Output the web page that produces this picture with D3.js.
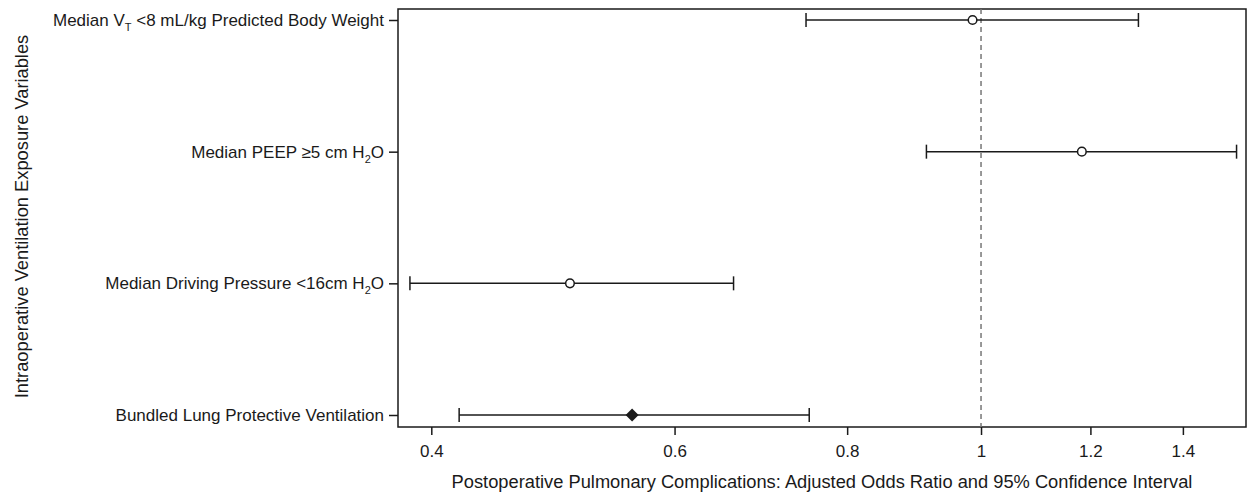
<!DOCTYPE html>
<html><head><meta charset="utf-8">
<script src="https://cdn.jsdelivr.net/npm/d3@7"></script>
<style>body{margin:0;background:#fff}svg{display:block}text{font-family:"Liberation Sans",Arial,sans-serif;fill:#1a1a1a}</style>
</head><body><svg id="c" width="1255" height="498"></svg>
<script>
// Data
const categories = ["Median VT <8 mL/kg Predicted Body Weight","Median PEEP ≥5 cm H2O","Median Driving Pressure <16cm H2O","Bundled Lung Protective Ventilation"];
const labelParts = [
  [["Median V",0],["T",1],[" <8 mL/kg Predicted Body Weight",0]],
  [["Median PEEP ≥5 cm H",0],["2",1],["O",0]],
  [["Median Driving Pressure <16cm H",0],["2",1],["O",0]],
  [["Bundled Lung Protective Ventilation",0]]
];
const oddsRatio = [0.986, 1.183, 0.504, 0.559];
const lowerCI   = [0.747, 0.913, 0.386, 0.419];
const upperCI   = [1.300, 1.531, 0.662, 0.751];
const markerType = ["circle","circle","circle","diamond"];
const xTicks = [0.4, 0.6, 0.8, 1, 1.2, 1.4];
const xTitle = "Postoperative Pulmonary Complications: Adjusted Odds Ratio and 95% Confidence Interval";
const yTitle = "Intraoperative Ventilation Exposure Variables";

const svg = d3.select("#c");
const L = 398, R = 1246, T = 9, B = 427;
const col = "#1a1a1a";
const FONT = "'Liberation Sans',Arial,sans-serif";
const x = d3.scaleLog().domain([0.3784, 1.5553]).range([L, R]);
const y = d3.scalePoint().domain(categories).range([20, 415]);

// frame
svg.append("rect").attr("x", L).attr("y", T).attr("width", R-L).attr("height", B-T)
  .attr("fill","none").attr("stroke",col).attr("stroke-width",1.5);

// reference line
svg.append("line").attr("x1", x(1)).attr("x2", x(1)).attr("y1", T).attr("y2", B)
  .attr("stroke","#777").attr("stroke-width",1.5).attr("stroke-dasharray","5,4");

// x axis
const xa = svg.append("g").attr("transform",`translate(0,${B})`)
  .call(d3.axisBottom(x).tickValues(xTicks).tickFormat(d3.format("~g")).tickSize(8).tickPadding(10));
xa.select(".domain").remove();
xa.selectAll("line").attr("stroke",col).attr("stroke-width",1.5);
xa.selectAll("text").attr("font-size",17).attr("fill",col).style("font-family",FONT);

// y axis
const ya = svg.append("g").attr("transform",`translate(${L},0)`)
  .call(d3.axisLeft(y).tickSize(9).tickPadding(5).tickFormat(""));
ya.select(".domain").remove();
ya.selectAll("line").attr("stroke",col).attr("stroke-width",1.5);
ya.selectAll(".tick").each(function(d, i){
  const t = d3.select(this).select("text").attr("font-size",17).attr("fill",col)
    .style("font-family",FONT);
  let prevSub = false;
  labelParts[i].forEach(([s,sub]) => {
    const ts = t.append("tspan").text(s);
    if (sub) ts.attr("font-size",11).attr("dy",5);
    else if (prevSub) ts.attr("dy",-5);
    prevSub = !!sub;
  });
});

// CI lines
const g = svg.append("g");
categories.forEach((c, i) => {
  const yy = y(c);
  g.append("line").attr("x1", x(lowerCI[i])).attr("x2", x(upperCI[i])).attr("y1", yy).attr("y2", yy)
    .attr("stroke",col).attr("stroke-width",1.5);
  [lowerCI[i], upperCI[i]].forEach(v => {
    g.append("line").attr("x1", x(v)).attr("x2", x(v)).attr("y1", yy-7).attr("y2", yy+7)
      .attr("stroke",col).attr("stroke-width",1.5);
  });
  if (markerType[i] === "circle") {
    g.append("circle").attr("cx", x(oddsRatio[i])).attr("cy", yy).attr("r",4.3)
      .attr("fill","#fff").attr("stroke",col).attr("stroke-width",1.5);
  } else {
    g.append("path").attr("transform",`translate(${x(oddsRatio[i])},${yy})`)
      .attr("d","M0,-6.5L6.5,0L0,6.5L-6.5,0Z").attr("fill",col);
  }
});

// titles
svg.append("text").attr("x",(L+R)/2).attr("y",488).attr("text-anchor","middle")
  .attr("font-size",18.3).text(xTitle);
svg.append("text").attr("transform",`translate(28,216.5) rotate(-90)`).attr("text-anchor","middle")
  .attr("font-size",18.3).text(yTitle);
</script></body></html>
